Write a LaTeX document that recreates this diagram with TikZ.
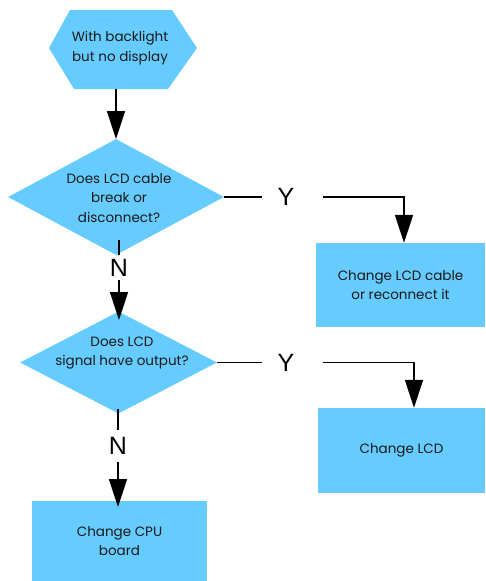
\documentclass[tikz,border=0pt]{standalone}
\usepackage{fontspec}
\setmainfont{Poppins}
\newfontfamily\ynfont{Liberation Sans}
\usetikzlibrary{arrows.meta,shapes.geometric}
\definecolor{boxblue}{HTML}{66CCFF}
\begin{document}
\begin{tikzpicture}[x=1pt,y=-1pt,
  txt/.style={font=\fontsize{13.5}{19.5}\selectfont,align=center,text=black!90,inner sep=0pt},
  dec/.style={diamond,fill=boxblue,inner sep=0pt},
  stepbox/.style={rectangle,fill=boxblue,inner sep=0pt,txt},
  yn/.style={font=\ynfont\fontsize{25}{25}\selectfont,inner sep=0pt},
  conn/.style={line width=1.6pt},
  arr/.style={conn,-{Triangle[length=28pt,width=18pt]}}]
\useasboundingbox (0,0) rectangle (485,581);
% hexagon start
\fill[boxblue] (70,10) -- (172,10) -- (197,48) -- (168,89) -- (74,89) -- (49,48) -- cycle;
\node[txt] (start) at (120,48) {With backlight\\but no display};
\coordinate (startbot) at (116,89);
% decisions
\node[dec,minimum width=216pt,minimum height=116pt] (d1) at (116,197) {};
\node[txt] (d1t) at (119,198) {Does LCD cable\\break or\\disconnect?};
\node[dec,minimum width=197pt,minimum height=102pt] (d2) at (118.5,362.5) {};
\node[txt] (d2t) at (122,353) {Does LCD\\signal have output?};
% boxes
\node[stepbox,minimum width=169pt,minimum height=84pt] (b1) at (400.5,285) {Change LCD cable\\or reconnect it};
\node[stepbox,minimum width=167pt,minimum height=85pt] (b2) at (401.5,450.5) {Change LCD};
\node[stepbox,minimum width=175pt,minimum height=80pt] (b3) at (119.5,541) {Change CPU\\board};
% labels
\node[yn,minimum width=48pt] (y1) at (286,197) {Y};
\node[yn,minimum width=48pt] (y2) at (286,362.5) {Y};
\node[yn,minimum height=25pt] (n1) at (119,267.5) {N};
\node[yn,minimum height=32pt] (n2) at (118,446) {N};
\coordinate (d1bot) at (119,240);
\coordinate (d2bot) at (118,409);
% connectors
\draw[arr] (startbot) -- (116,139);
\draw[conn] (d1.east) -- (y1.west);
\draw[arr] ([xshift=13pt]y1.east) -| ([xshift=3.5pt]b1.north);
\draw[conn] (d1bot) -- (n1.north);
\draw[arr] (n1.south) -- (119,320);
\draw[conn] (d2.east) -- (y2.west);
\draw[arr] ([xshift=13pt]y2.east) -| ([xshift=12.5pt]b2.north);
\draw[conn] (d2bot) -- (n2.north);
\draw[arr] (n2.south) -- (118,507);
\end{tikzpicture}
\end{document}
